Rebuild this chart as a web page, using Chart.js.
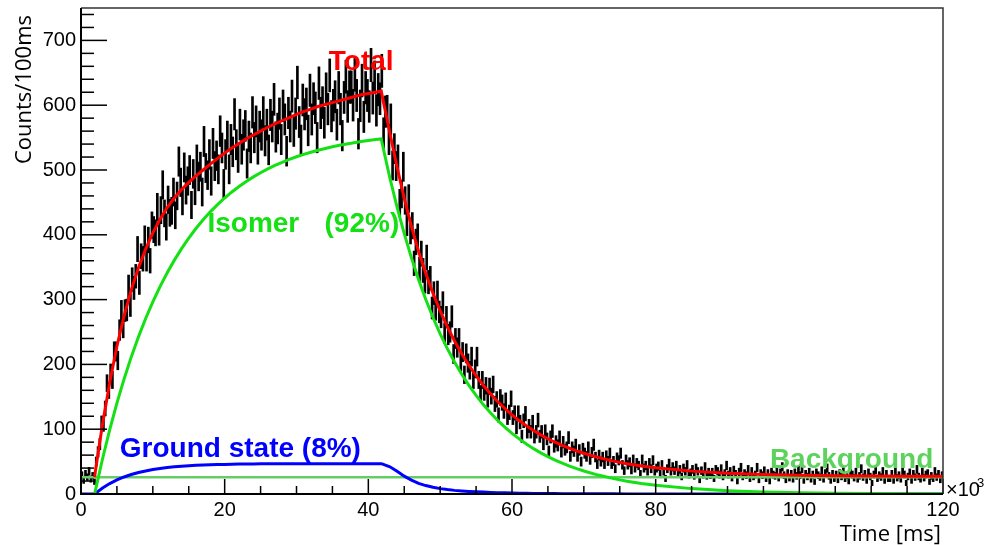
<!DOCTYPE html>
<html><head><meta charset="utf-8">
<script src="https://cdn.jsdelivr.net/npm/chart.js@4.4.1/dist/chart.umd.min.js"></script>
<style>html,body{margin:0;padding:0;background:#fff;overflow:hidden}canvas{display:block}</style>
</head><body>
<canvas id="c" width="986" height="545"></canvas>
<script>
// ---- tick labels ----
const xTickLabels = [0, 20, 40, 60, 80, 100, 120];
const yTickLabels = [0, 100, 200, 300, 400, 500, 600, 700];

// ---- histogram: counts per 100 ms, 480 bins over the time range (×10^3 ms) ----
const histRange = [0, 120];
const counts = [
29,21,31,26, 35,23,28,19, 50,65,77,110, 107,132,171,160, 187,176,220,220,
206,253,282,257, 283,284,320,291, 331,318,336,378, 326,367,363,394, 363,392,360,415,
408,403,443,404, 438,477,433,412, 454,434,437,466, 430,460,513,481, 452,504,469,483,
500,446,494,468, 516,490,505,466, 544,503,492,524, 483,541,506,522, 501,560,534,479,
524,552,501,547, 528,586,539,519, 570,532,554,568, 510,552,534,589, 550,575,532,567,
554,589,545,570, 531,585,567,609, 551,564,587,547, 599,578,529,588, 567,614,560,587,
635,574,546,608, 586,602,561,623, 578,610,596,550, 634,588,604,573, 625,594,646,583,
600,613,570,627, 594,553,612,644, 598,628,628,600, 647,615,556,599, 638,582,627,615,
598,662,611,643, 592,624,610,653, 557,590,591,547, 578,507,533,506, 516,449,463,505,
453,419,456,406, 414,356,389,397, 347,371,345,328, 365,327,333,287, 310,285,311,281,
273,295,248,273, 246,250,274,216, 240,226,240,204, 219,184,217,202, 191,212,176,193,
212,176,155,176, 157,167,146,166, 151,169,139,146, 122,149,141,128, 144,118,126,147,
118,125,103,125, 111,89,113,124, 96,105,96,111, 88,96,114,89, 96,77,97,85,
66,88,97,73, 81,75,88,65, 80,68,72,87, 58,72,66,76, 58,68,50,70,
63,58,72,53, 64,76,57,46, 60,50,57,46, 59,51,63,46, 51,39,56,52,
63,45,36,53, 45,49,37,53, 40,48,44,31, 53,40,44,35, 48,39,52,35,
40,43,31,45, 35,24,39,47, 35,42,36,44, 32,38,27,40, 35,45,30,33,
38,28,40,35, 22,36,30,42, 28,34,29,34, 24,38,35,30, 39,27,32,44,
30,35,25,37, 31,20,34,41, 27,32,29,38, 24,35,27,30, 41,22,32,29,
36,24,32,20, 34,30,28,37, 25,33,42,29, 22,32,25,31, 23,33,28,37,
29,39,21,31, 27,34,23,30, 19,33,29,26, 36,23,32,40, 28,21,31,24,
30,22,32,27, 36,24,29,20, 33,30,25,34, 23,28,39,26, 31,21,33,27,
17,30,37,24, 29,26,35,21, 31,24,24,31, 21,34,25,29, 23,36,30,17,
27,33,21,31, 26,38,27,23, 34,25,30,32, 19,28,24,35, 26,31,22,29
];

// ---- fitted curves ----
const fitTime = [0, 1.9, 2, 3, 4, 5, 6, 7, 8, 9, 10, 11, 12, 13, 14, 15, 16, 17, 18, 19, 20,
  21, 22, 23, 24, 25, 26, 27, 28, 29, 30, 31, 32, 33, 34, 35, 36, 37, 38, 39, 40, 41, 41.8,
  42, 43, 44, 45, 46, 47, 48, 49, 50, 51, 52, 53, 54, 55, 56, 57, 58, 59, 60,
  61, 62, 63, 64, 65, 66, 67, 68, 69, 70, 72, 74, 76, 78, 80, 85, 90, 95, 100, 105, 110, 115, 120];
const fitTotal = [null, 26, 35, 108, 172, 228, 275, 315, 349, 378, 403, 424,
  442, 457, 470, 481, 491, 500, 509, 518, 526, 534,
  541, 548, 554, 560, 566, 571, 576, 581, 586, 590,
  594, 598, 601, 604, 607, 610, 613, 616, 618, 620, 622,
  610.5, 556.7, 504.6, 456.2, 413, 374.3, 340.2, 309.7, 282.5,
  258.1, 236.2, 216.4, 198.6, 182.5, 167.9, 154.8, 142.8, 132, 122.1,
  113.3, 105.2, 98, 91.3, 85.3, 79.9, 75, 70.6, 66.5, 62.9,
  56.4, 51.1, 46.8, 43.3, 40.4, 35.3, 32.1, 30.1, 28.9, 28.2, 27.7, 27.4, 27.3];
const fitIsomer = [null, 0, 5.2, 54.4, 99.3, 140.2, 177.6, 211.6, 242.5, 270.8, 296.5, 320,
  341.4, 360.9, 378.7, 394.9, 409.7, 423.1, 435.4, 446.6, 456.8, 466.1,
  474.6, 482.3, 489.4, 495.8, 501.6, 507, 511.9, 516.3, 520.4, 524,
  527.4, 530.4, 533.2, 535.8, 538.1, 540.2, 542.2, 543.9, 545.5, 546.9, 548,
  537.5, 487.7, 442.6, 401.7, 364.5, 330.8, 300.2, 272.4, 247.2,
  224.3, 203.6, 184.7, 167.6, 152.1, 138, 125.3, 113.7, 103.2, 93.6,
  85, 77.1, 70, 63.5, 57.6, 52.3, 47.5, 43.1, 39.1, 35.5,
  29.2, 24.1, 19.8, 16.3, 13.4, 8.3, 5.1, 3.1, 1.9, 1.2, 0.7, 0.4, 0.3];
const fitGround = [0, 0, 0.9, 9.3, 16.1, 21.7, 26.3, 30.1, 33.1, 35.6, 37.7, 39.4,
  40.8, 41.9, 42.8, 43.6, 44.2, 44.7, 45.1, 45.5, 45.7, 45.9,
  46.2, 46.3, 46.4, 46.5, 46.6, 46.6, 46.7, 46.7, 46.8, 46.8,
  46.8, 46.8, 46.8, 46.8, 46.8, 46.8, 46.8, 46.8, 46.8, 46.8, 46.8,
  46, 42, 35, 27.5, 21.5, 16.5, 13, 10.3, 8.3,
  6.8, 5.6, 4.7, 4, 3.4, 2.9, 2.5, 2.1, 1.8, 1.5,
  1.3, 1.1, 0.95, 0.8, 0.7, 0.6, 0.5, 0.45, 0.4, 0.35,
  0.25, 0.2, 0.15, 0.1, 0.1, 0.05, 0, 0, 0, 0, 0, 0, 0];
const bgTime = [0, 120];
const bgLevel = [26, 26];

// ---- build library data ----
const nBins = counts.length;
const binW = (histRange[1] - histRange[0]) / nBins;
const errBars = counts.map((c, i) => {
  const e = Math.sqrt(c);
  return { x: histRange[0] + (i + 0.5) * binW, y: [c - e, c + e] };
});
const pts = (xs, ys) => xs.map((x, i) => ({ x, y: ys[i] }));

const FONT = '"Liberation Sans", Arial, sans-serif';
const GREEN = '#14e014';
const BGGREEN = '#66cc66';

const notes = [
  { text: 'Total', x: 34.5, y: 655, color: '#ff0000' },
  { text: 'Isomer', x: 17.6, y: 404, color: GREEN },
  { text: '(92%)', x: 33.9, y: 404, color: GREEN },
  { text: 'Ground state (8%)', x: 5.4, y: 57, color: '#0000ff' },
  { text: 'Background', x: 95.9, y: 40.5, color: '#5dd35d' }
];

const rootFrame = {
  id: 'rootFrame',
  afterDatasetsDraw(chart) {
    const { ctx, chartArea: a, scales: { x, y } } = chart;
    ctx.save();
    // ticks drawn inside the frame
    ctx.strokeStyle = '#000';
    ctx.lineWidth = 1.5;
    for (let v = 0; v <= 740; v += 20) {
      const py = y.getPixelForValue(v);
      const len = v % 100 === 0 ? 26 : 13;
      ctx.beginPath(); ctx.moveTo(a.left, py); ctx.lineTo(a.left + len, py); ctx.stroke();
    }
    for (let v = 0; v <= 120; v += 5) {
      const px = x.getPixelForValue(v);
      const len = v % 20 === 0 ? 15 : 8;
      ctx.beginPath(); ctx.moveTo(px, a.bottom); ctx.lineTo(px, a.bottom - len); ctx.stroke();
    }
    // frame
    ctx.strokeStyle = '#333';
    ctx.lineWidth = 1.5;
    ctx.beginPath();
    ctx.moveTo(a.left, a.top); ctx.lineTo(a.right, a.top); ctx.lineTo(a.right, a.bottom);
    ctx.stroke();
    ctx.strokeStyle = '#000';
    ctx.lineWidth = 2;
    ctx.beginPath();
    ctx.moveTo(a.left, a.top); ctx.lineTo(a.left, a.bottom); ctx.lineTo(a.right, a.bottom);
    ctx.stroke();

    // annotations
    ctx.font = 'bold 28px ' + FONT;
    ctx.textAlign = 'left';
    ctx.textBaseline = 'alphabetic';
    notes.forEach(n => {
      ctx.fillStyle = n.color;
      ctx.fillText(n.text, x.getPixelForValue(n.x), y.getPixelForValue(n.y));
    });

    // axis titles
    ctx.fillStyle = '#000';
    ctx.font = '22px "Open Sans", sans-serif';
    ctx.textAlign = 'right';
    ctx.fillText('Time [ms]', a.right - 2, 541);
    ctx.save();
    ctx.translate(31, 15);
    ctx.rotate(-Math.PI / 2);
    ctx.textAlign = 'right';
    ctx.fillText('Counts/100ms', 0, 0);
    ctx.restore();

    // x10^3 multiplier
    ctx.textAlign = 'left';
    ctx.font = '20px ' + FONT;
    ctx.fillText('\u00d710', a.right + 3, 496);
    ctx.font = '13px ' + FONT;
    ctx.fillText('3', a.right + 34, 487);
    ctx.restore();
  }
};

new Chart(document.getElementById('c'), {
  type: 'line',
  data: {
    datasets: [
      { type: 'line', label: 'Total', data: pts(fitTime, fitTotal), borderColor: '#ff0000',
        borderWidth: 3, pointRadius: 0, tension: 0, order: 1, spanGaps: false },
      { type: 'line', label: 'Isomer', data: pts(fitTime, fitIsomer), borderColor: GREEN,
        borderWidth: 3, pointRadius: 0, tension: 0, order: 2 },
      { type: 'line', label: 'Ground state', data: pts(fitTime, fitGround), borderColor: '#0000ff',
        borderWidth: 3, pointRadius: 0, tension: 0, order: 3 },
      { type: 'line', label: 'Background', data: pts(bgTime, bgLevel), borderColor: BGGREEN,
        borderWidth: 2.5, pointRadius: 0, tension: 0, order: 4 },
      { type: 'bar', label: 'Data', data: errBars, backgroundColor: '#000', borderWidth: 0,
        barThickness: 2, grouped: false, order: 10 }
    ]
  },
  options: {
    responsive: false,
    animation: false,
    devicePixelRatio: 1,
    layout: { padding: { left: 0, right: 43, top: 8, bottom: 0 } },
    plugins: { legend: { display: false }, tooltip: { enabled: false } },
    scales: {
      x: {
        type: 'linear', min: 0, max: 120, offset: false,
        grid: { display: false, drawTicks: false, offset: false },
        border: { display: false },
        afterBuildTicks(s) { s.ticks = xTickLabels.map(v => ({ value: v })); },
        afterFit(s) { s.height = 51; s.paddingLeft = 0; s.paddingRight = 0; },
        ticks: { font: { size: 20, family: FONT }, color: '#000', padding: 4, maxRotation: 0, autoSkip: false }
      },
      y: {
        type: 'linear', min: 0, max: 750,
        grid: { display: false, drawTicks: false },
        border: { display: false },
        afterBuildTicks(s) { s.ticks = yTickLabels.map(v => ({ value: v })); },
        afterFit(s) { s.width = 81; s.paddingTop = 0; s.paddingBottom = 0; },
        ticks: { font: { size: 20, family: FONT }, color: '#000', padding: 5 }
      }
    }
  },
  plugins: [rootFrame]
});
</script>
</body></html>
